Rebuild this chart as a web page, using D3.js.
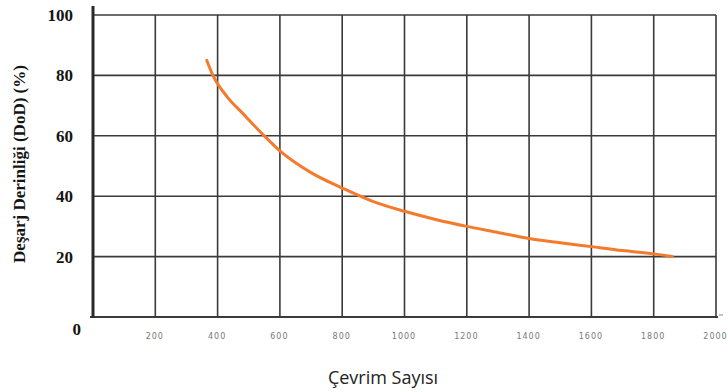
<!DOCTYPE html>
<html>
<head>
<meta charset="utf-8">
<script src="https://cdn.jsdelivr.net/npm/d3@7"></script>
<style>
  body { margin: 0; background: #fff; }
  svg { display: block; }
</style>
</head>
<body>
<svg id="chart"></svg>
<script>
// cycle count vs depth of discharge
const cycles = [365, 385, 430, 480, 540, 600, 700, 800, 900, 1000, 1100, 1200, 1300, 1400, 1500, 1600, 1700, 1800, 1860];
const dod = [85, 80, 73, 67.5, 61, 55, 47.8, 42.7, 38.2, 35, 32.3, 30, 28, 26, 24.6, 23.3, 22, 20.9, 20];
const xTicks = [200, 400, 600, 800, 1000, 1200, 1400, 1600, 1800, 2000];
const yTicks = [0, 20, 40, 60, 80, 100];

const width = 728, height = 392;
const margin = {top: 15, right: 12, bottom: 75, left: 93};

const svg = d3.select('#chart')
  .attr('width', width)
  .attr('height', height);

const x = d3.scaleLinear().domain([0, 2000]).range([margin.left, width - margin.right]);
const y = d3.scaleLinear().domain([0, 100]).range([height - margin.bottom, margin.top]);

const grid = svg.append('g').attr('stroke', '#3a3a3a').attr('stroke-width', 1.6);

// vertical grid lines
grid.selectAll('line.v')
  .data(xTicks)
  .join('line')
  .attr('class', 'v')
  .attr('x1', d => x(d)).attr('x2', d => x(d))
  .attr('y1', y(100)).attr('y2', y(0));

// horizontal grid lines
grid.selectAll('line.h')
  .data(yTicks.slice(1))
  .join('line')
  .attr('class', 'h')
  .attr('x1', x(0)).attr('x2', x(2000))
  .attr('y1', d => y(d)).attr('y2', d => y(d));

// bottom axis line with a little stub at the end
svg.append('line')
  .attr('x1', x(0) - 3).attr('x2', x(2000) + 2)
  .attr('y1', y(0)).attr('y2', y(0))
  .attr('stroke', '#3a3a3a').attr('stroke-width', 2);
svg.append('line')
  .attr('x1', x(2000) + 3).attr('x2', x(2000) + 7)
  .attr('y1', y(0) - 2).attr('y2', y(0) - 2)
  .attr('stroke', '#888').attr('stroke-width', 1);

// thick left axis
svg.append('line')
  .attr('x1', x(0)).attr('x2', x(0))
  .attr('y1', y(100) - 9).attr('y2', y(0) + 1)
  .attr('stroke', '#2a2a2a').attr('stroke-width', 3);

// y tick labels
const yAxis = d3.axisLeft(y).tickValues(yTicks).tickSize(0).tickPadding(20);
const yAxisG = svg.append('g')
  .attr('transform', `translate(${x(0)},0)`)
  .call(yAxis);
yAxisG.select('.domain').remove();
yAxisG.selectAll('text')
  .attr('font-family', '"Liberation Serif", "Times New Roman", serif')
  .attr('font-weight', 'bold')
  .attr('font-size', 17)
  .attr('fill', '#141414');
yAxisG.selectAll('.tick').filter(d => d === 0).select('text')
  .attr('dx', 8).attr('dy', '1.05em');

// x tick labels
const xAxis = d3.axisBottom(x).tickValues(xTicks).tickSize(0).tickPadding(16)
  .tickFormat(d3.format('d'));
const xAxisG = svg.append('g')
  .attr('transform', `translate(0,${y(0)})`)
  .call(xAxis);
xAxisG.select('.domain').remove();
xAxisG.selectAll('text')
  .attr('font-family', '"DejaVu Sans", sans-serif')
  .attr('font-size', 8)
  .attr('letter-spacing', 1)
  .attr('fill', '#777');
xAxisG.selectAll('.tick text').attr('dx', -1);

// curve
const line = d3.line()
  .x((d, i) => x(cycles[i]))
  .y(d => y(d))
  .curve(d3.curveMonotoneX);

svg.append('path')
  .datum(dod)
  .attr('d', line)
  .attr('fill', 'none')
  .attr('stroke', '#f47a2c')
  .attr('stroke-width', 3)
  .attr('stroke-linecap', 'round');

// axis titles
svg.append('text')
  .attr('transform', `translate(25,164) rotate(-90)`)
  .attr('text-anchor', 'middle')
  .attr('font-family', '"Liberation Serif", "Times New Roman", serif')
  .attr('font-weight', 'bold')
  .attr('font-size', 17)
  .attr('fill', '#141414')
  .text('Deşarj Derinliği (DoD) (%)');

svg.append('text')
  .attr('x', 383)
  .attr('y', 384)
  .attr('text-anchor', 'middle')
  .attr('font-family', '"Open Sans", sans-serif')
  .attr('font-size', 18)
  .attr('fill', '#222')
  .text('Çevrim Sayısı');
</script>
</body>
</html>
